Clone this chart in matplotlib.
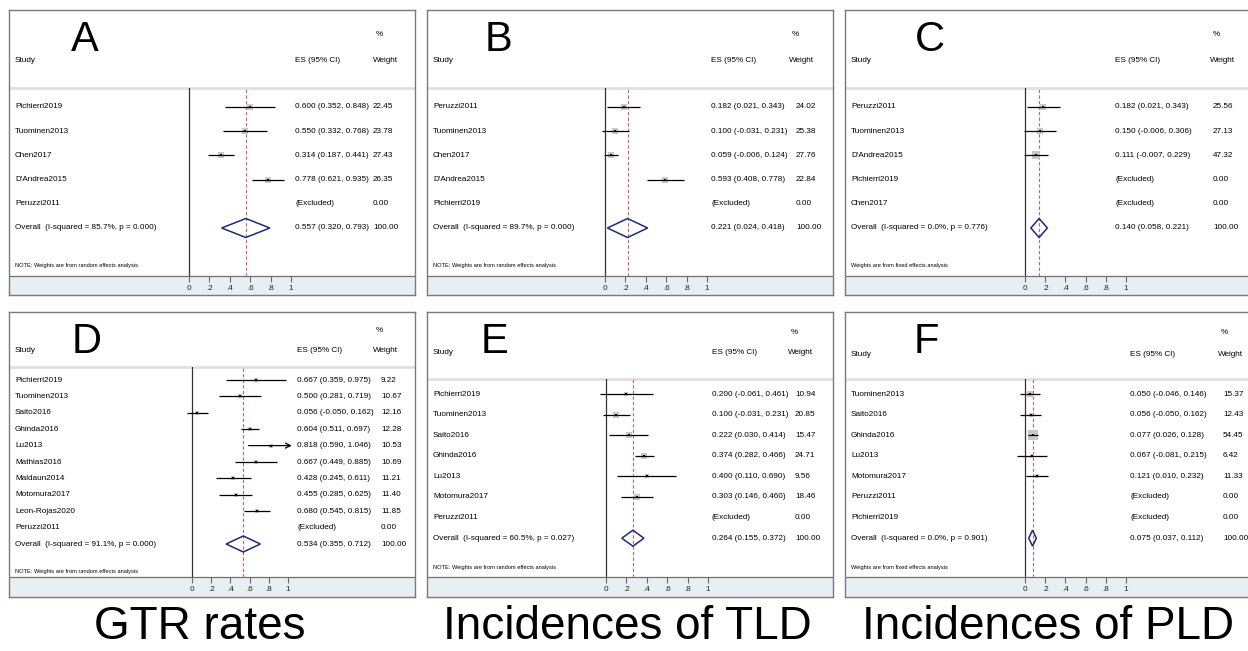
import numpy as np
import matplotlib
matplotlib.use("Agg")
import matplotlib.pyplot as plt
from matplotlib.patches import Polygon, Rectangle
from matplotlib import transforms

plt.rcParams['font.family'] = ['Liberation Sans', 'DejaVu Sans']

W, H = 1248, 651
NA = np.nan

# ---------------- data ----------------
# A - GTR rates (subgroup 1)
a_studies = ["Pichierri2019", "Tuominen2013", "Chen2017", "D'Andrea2015", "Peruzzi2011"]
a_es = [0.600, 0.550, 0.314, 0.778, NA]
a_lo = [0.352, 0.332, 0.187, 0.621, NA]
a_hi = [0.848, 0.768, 0.441, 0.935, NA]
a_wt = [22.45, 23.78, 27.43, 26.35, 0.00]
a_overall = [0.557, 0.320, 0.793]
a_het = "Overall  (I-squared = 85.7%, p = 0.000)"

# B - TLD (subgroup 1)
b_studies = ["Peruzzi2011", "Tuominen2013", "Chen2017", "D'Andrea2015", "Pichierri2019"]
b_es = [0.182, 0.100, 0.059, 0.593, NA]
b_lo = [0.021, -0.031, -0.006, 0.408, NA]
b_hi = [0.343, 0.231, 0.124, 0.778, NA]
b_wt = [24.02, 25.38, 27.76, 22.84, 0.00]
b_overall = [0.221, 0.024, 0.418]
b_het = "Overall  (I-squared = 89.7%, p = 0.000)"

# C - PLD (subgroup 1)
c_studies = ["Peruzzi2011", "Tuominen2013", "D'Andrea2015", "Pichierri2019", "Chen2017"]
c_es = [0.182, 0.150, 0.111, NA, NA]
c_lo = [0.021, -0.006, -0.007, NA, NA]
c_hi = [0.343, 0.306, 0.229, NA, NA]
c_wt = [25.56, 27.13, 47.32, 0.00, 0.00]
c_overall = [0.140, 0.058, 0.221]
c_het = "Overall  (I-squared = 0.0%, p = 0.776)"

# D - GTR rates (subgroup 2)
d_studies = ["Pichierri2019", "Tuominen2013", "Saito2016", "Ghinda2016", "Lu2013",
             "Mathias2016", "Maldaun2014", "Motomura2017", "Leon-Rojas2020", "Peruzzi2011"]
d_es = [0.667, 0.500, 0.056, 0.604, 0.818, 0.667, 0.428, 0.455, 0.680, NA]
d_lo = [0.359, 0.281, -0.050, 0.511, 0.590, 0.449, 0.245, 0.285, 0.545, NA]
d_hi = [0.975, 0.719, 0.162, 0.697, 1.046, 0.885, 0.611, 0.625, 0.815, NA]
d_wt = [9.22, 10.67, 12.16, 12.28, 10.53, 10.69, 11.21, 11.40, 11.85, 0.00]
d_overall = [0.534, 0.355, 0.712]
d_het = "Overall  (I-squared = 91.1%, p = 0.000)"

# E - TLD (subgroup 2)
e_studies = ["Pichierri2019", "Tuominen2013", "Saito2016", "Ghinda2016", "Lu2013",
             "Motomura2017", "Peruzzi2011"]
e_es = [0.200, 0.100, 0.222, 0.374, 0.400, 0.303, NA]
e_lo = [-0.061, -0.031, 0.030, 0.282, 0.110, 0.146, NA]
e_hi = [0.461, 0.231, 0.414, 0.466, 0.690, 0.460, NA]
e_wt = [10.94, 20.85, 15.47, 24.71, 9.56, 18.46, 0.00]
e_overall = [0.264, 0.155, 0.372]
e_het = "Overall  (I-squared = 60.5%, p = 0.027)"

# F - PLD (subgroup 2)
f_studies = ["Tuominen2013", "Saito2016", "Ghinda2016", "Lu2013", "Motomura2017",
             "Peruzzi2011", "Pichierri2019"]
f_es = [0.050, 0.056, 0.077, 0.067, 0.121, NA, NA]
f_lo = [-0.046, -0.050, 0.026, -0.081, 0.010, NA, NA]
f_hi = [0.146, 0.162, 0.128, 0.215, 0.232, NA, NA]
f_wt = [15.37, 12.43, 54.45, 6.42, 11.33, 0.00, 0.00]
f_overall = [0.075, 0.037, 0.112]
f_het = "Overall  (I-squared = 0.0%, p = 0.901)"

note_random = "NOTE: Weights are from random effects analysis"
note_fixed = "Weights are from fixed effects analysis"

xticks = [0, 0.2, 0.4, 0.6, 0.8, 1]
xticklabels = ["0", ".2", ".4", ".6", ".8", "1"]
column_titles = ["GTR rates", "Incidences of TLD", "Incidences of PLD"]

# ---------------- layout (pixels) ----------------
PW, PH = 406, 285
FS = 5.9
top_lay = dict(x0=180, scale=102, es_x=286, wt_x=364, wh_x=364, pct_y=25, hdr_y=50,
               sep=78, row0=97, step=24.2, note_y=255, band=266, dh=9.5, let_y=30)
bot_lay = dict(x0=180, scale=102, es_x=285, wt_x=368, wh_x=361, pct_y=20, hdr_y=41,
               sep=67, row0=82, step=20.6, note_y=255, band=265, dh=8, let_y=30)


def forest(fig, left, top, letter, let_x, studies, es, lo, hi, wt, overall, het, note, lay):
    box = fig.add_axes([left / W, 1 - (top + PH) / H, PW / W, PH / H])
    box.set_xlim(0, PW)
    box.set_ylim(PH, 0)
    box.set_xticks([])
    box.set_yticks([])
    for s in box.spines.values():
        s.set_color('#7a7a7a')
        s.set_linewidth(1)

    # header
    box.text(let_x, lay['let_y'], letter, fontsize=30, ha='center', va='center')
    box.text(6, lay['hdr_y'], "Study", fontsize=FS, va='center')
    box.text(lay['es_x'], lay['hdr_y'], "ES (95% CI)", fontsize=FS, va='center')
    box.text(lay['wh_x'] + 3, lay['pct_y'], "%", fontsize=FS, va='center')
    box.text(lay['wh_x'], lay['hdr_y'], "Weight", fontsize=FS, va='center')
    box.axhline(lay['sep'], color='#e0e0e0', lw=2)
    box.text(6, lay['note_y'], note, fontsize=4.1, va='center')

    # axis band
    box.add_patch(Rectangle((0, lay['band']), PW, PH - lay['band'],
                            facecolor='#e7eff2', edgecolor='none'))
    box.axhline(lay['band'], color='#707070', lw=0.9)

    # forest area
    n = len(studies)
    L, R = lay['x0'] - 30, lay['x0'] + 1.1 * lay['scale']
    ax = fig.add_axes([(left + L) / W, 1 - (top + lay['band']) / H,
                       (R - L) / W, (lay['band'] - lay['sep']) / H])
    ax.set_facecolor('none')
    ax.set_xlim((L - lay['x0']) / lay['scale'], (R - lay['x0']) / lay['scale'])
    ax.set_ylim((lay['band'] - lay['row0']) / lay['step'], (lay['sep'] - lay['row0']) / lay['step'])
    for s in ax.spines.values():
        s.set_visible(False)
    ax.set_yticks([])
    ax.set_xticks(xticks)
    ax.set_xticklabels(xticklabels)
    ax.tick_params(axis='x', direction='out', length=4, width=0.8, color='#6a6a6a',
                   labelsize=FS, pad=2.5, labelcolor='#222222')

    ax.axvline(0, color='#333333', lw=0.9)
    ax.axvline(overall[0], color='#d0606e', lw=0.8, ls=(0, (3, 2)))

    clip = 1.04
    rows = np.arange(n)
    for i in rows:
        if np.isnan(es[i]):
            continue
        side = 1.3 * np.sqrt(wt[i]) * 0.72
        ax.scatter(es[i], i, marker='s', s=side ** 2, color='#c8c8c8', zorder=2, lw=0)
        if hi[i] > clip:
            ax.annotate('', xy=(clip, i), xytext=(lo[i], i),
                        arrowprops=dict(arrowstyle='->', lw=0.9, color='black',
                                        shrinkA=0, shrinkB=0, mutation_scale=9))
        else:
            ax.hlines(i, lo[i], hi[i], color='black', lw=0.9, zorder=3)
        ax.scatter(es[i], i, marker='s', s=4.5, color='black', zorder=4, lw=0)

    dh = lay['dh'] / lay['step']
    ax.add_patch(Polygon([(overall[1], n), (overall[0], n - dh), (overall[2], n),
                          (overall[0], n + dh)], closed=True, fill=False,
                         edgecolor='#1f2a7a', lw=1.1, zorder=5))

    # text columns, placed on the forest rows
    tr = transforms.blended_transform_factory(box.transData, ax.transData)
    for i in rows:
        box.text(6, i, studies[i], fontsize=FS, va='center', transform=tr)
        if np.isnan(es[i]):
            est = "(Excluded)"
        else:
            est = f"{es[i]:.3f} ({lo[i]:.3f}, {hi[i]:.3f})"
        box.text(lay['es_x'], i, est, fontsize=FS, va='center', transform=tr)
        box.text(lay['wt_x'], i, f"{wt[i]:.2f}", fontsize=FS, va='center', transform=tr)
    box.text(6, n, het, fontsize=FS, va='center', transform=tr)
    box.text(lay['es_x'], n, f"{overall[0]:.3f} ({overall[1]:.3f}, {overall[2]:.3f})",
             fontsize=FS, va='center', transform=tr)
    box.text(lay['wt_x'], n, "100.00", fontsize=FS, va='center', transform=tr)


fig = plt.figure(figsize=(W / 100, H / 100), dpi=100)

forest(fig, 9, 10, "A", 76, a_studies, a_es, a_lo, a_hi, a_wt, a_overall, a_het,
       note_random, top_lay)
forest(fig, 427, 10, "B", 71, b_studies, b_es, b_lo, b_hi, b_wt, b_overall, b_het,
       note_random, dict(top_lay, x0=178, es_x=284, wt_x=369, wh_x=362))
forest(fig, 845, 10, "C", 85, c_studies, c_es, c_lo, c_hi, c_wt, c_overall, c_het,
       note_fixed, dict(top_lay, es_x=270, wt_x=368, wh_x=365, scale=101))

forest(fig, 9, 312, "D", 78, d_studies, d_es, d_lo, d_hi, d_wt, d_overall, d_het,
       note_random, dict(bot_lay, x0=183, scale=96, es_x=288, wt_x=372, wh_x=364,
                         pct_y=19, hdr_y=38, sep=55, row0=68, step=16.4, note_y=259))
forest(fig, 427, 312, "E", 68, e_studies, e_es, e_lo, e_hi, e_wt, e_overall, e_het,
       note_random, dict(bot_lay, x0=179))
forest(fig, 845, 312, "F", 81, f_studies, f_es, f_lo, f_hi, f_wt, f_overall, f_het,
       note_fixed, dict(bot_lay, scale=101, wt_x=378, wh_x=373, pct_y=21, hdr_y=43))

for cx, title in zip([200, 627, 1048], column_titles):
    fig.text(cx / W, 1 - 627 / H, title, fontsize=33, ha='center', va='center')

fig.savefig("out.png", dpi=100)
